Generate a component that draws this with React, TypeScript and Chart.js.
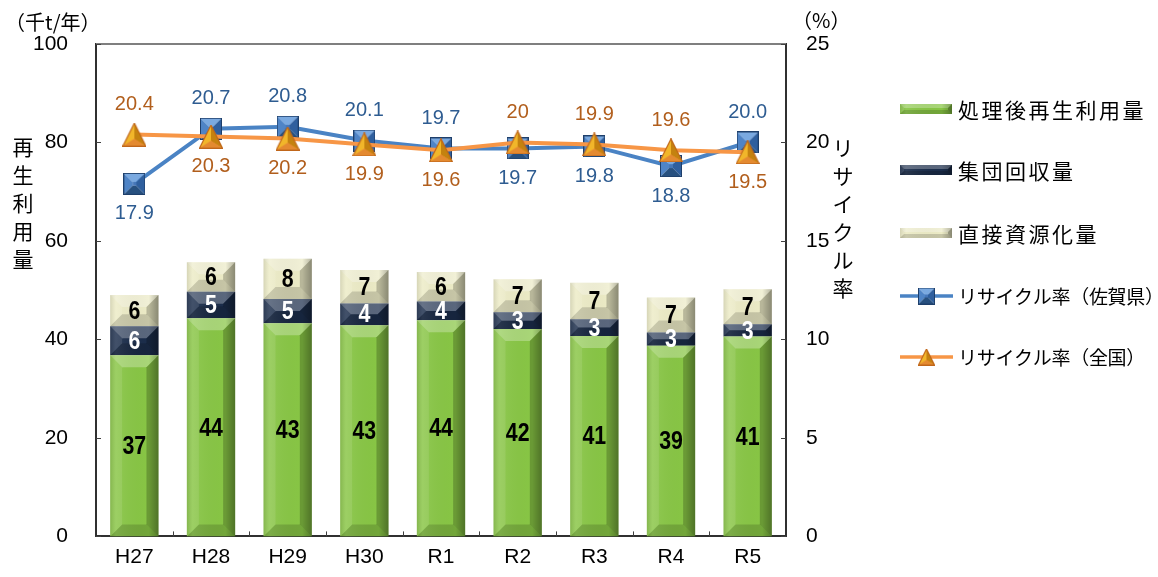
import React, { useEffect, useRef } from 'react';
import { Chart, registerables } from 'chart.js';

Chart.register(...registerables);

// ---- data ----
const categories = ['H27', 'H28', 'H29', 'H30', 'R1', 'R2', 'R3', 'R4', 'R5'];
const recycledAfterTreatment = [36.8, 44.3, 43.3, 42.9, 43.9, 42.1, 40.7, 38.7, 40.6];
const groupCollection = [5.9, 5.4, 4.9, 4.4, 3.8, 3.4, 3.4, 2.7, 2.5];
const directRecycling = [6.3, 6.0, 8.2, 6.8, 6.0, 6.7, 7.4, 7.1, 7.1];
const rateSaga = [17.9, 20.7, 20.8, 20.1, 19.7, 19.7, 19.8, 18.8, 20.0];
const rateNational = [20.4, 20.3, 20.2, 19.9, 19.6, 20, 19.9, 19.6, 19.5];
const rateSagaText = ['17.9', '20.7', '20.8', '20.1', '19.7', '19.7', '19.8', '18.8', '20.0'];
const rateNationalText = ['20.4', '20.3', '20.2', '19.9', '19.6', '20', '19.9', '19.6', '19.5'];
const sagaLabelSide = ['below', 'above', 'above', 'above', 'above', 'below', 'below', 'below', 'above'];
const nationalLabelSide = ['above', 'below', 'below', 'below', 'below', 'above', 'above', 'above', 'below'];
const leftTitle = '再生利用量';
const rightTitle = 'リサイクル率';
const leftUnit = '（千t/年）';
const rightUnit = '（%）';

const CJK = "'Noto Sans CJK JP', 'Noto Sans CJK SC', sans-serif";
const LATIN = "'Liberation Sans', Arial, sans-serif";

const GREEN = '#88c645';
const NAVY = '#1b2d4b';
const CREAM = '#ecebc6';
const BLUE_LINE = '#4a83c4';
const ORANGE_LINE = '#f79646';
const BLUE_TEXT = '#2e5c91';
const ORANGE_TEXT = '#b15e1c';

function poly(g: CanvasRenderingContext2D, pts: number[][], color: string) {
  g.beginPath();
  g.moveTo(pts[0][0], pts[0][1]);
  for (let k = 1; k < pts.length; k++) g.lineTo(pts[k][0], pts[k][1]);
  g.closePath();
  g.fillStyle = color;
  g.fill();
}

function makeSquare(s: number): HTMLCanvasElement {
  const c = document.createElement('canvas');
  c.width = s;
  c.height = s;
  const g = c.getContext('2d')!;
  const i = s * 0.42;
  poly(g, [[0, 0], [s, 0], [s - i, i], [i, i]], '#7aa9e0');
  poly(g, [[0, 0], [i, i], [i, s - i], [0, s]], '#4f84c6');
  poly(g, [[s, 0], [s, s], [s - i, s - i], [s - i, i]], '#2f5f9e');
  poly(g, [[0, s], [i, s - i], [s - i, s - i], [s, s]], '#27507f');
  g.fillStyle = '#4676b8';
  g.fillRect(i, i, s - 2 * i, s - 2 * i);
  g.strokeStyle = '#1e3f6b';
  g.lineWidth = 1;
  g.strokeRect(0.5, 0.5, s - 1, s - 1);
  return c;
}

function makeTriangle(s: number): HTMLCanvasElement {
  const c = document.createElement('canvas');
  c.width = s;
  c.height = s;
  const g = c.getContext('2d')!;
  const A = [s / 2, 0.5];
  const B = [0.5, s - 0.5];
  const C = [s - 0.5, s - 0.5];
  const G = [s / 2, s * 0.68];
  poly(g, [A, B, C], '#f39a40');
  poly(g, [A, B, G], '#f1b62a');
  poly(g, [A, C, G], '#c4820f');
  poly(g, [B, C, G], '#e48a30');
  g.beginPath();
  g.moveTo(A[0], A[1]);
  g.lineTo(B[0], B[1]);
  g.lineTo(C[0], C[1]);
  g.closePath();
  g.strokeStyle = '#c0661a';
  g.lineWidth = 1.2;
  g.stroke();
  return c;
}

function bevel(ctx: CanvasRenderingContext2D, x0: number, y0: number, x1: number, y1: number, maxB: number) {
  const w = x1 - x0;
  const h = y1 - y0;
  if (w <= 0 || h <= 0) return;
  const b = Math.min(maxB, w / 2, h / 2);
  poly(ctx, [[x0, y0], [x1, y0], [x1 - b, y0 + b], [x0 + b, y0 + b]], 'rgba(255,255,255,0.28)');
  poly(ctx, [[x0, y0], [x0 + b, y0 + b], [x0 + b, y1 - b], [x0, y1]], 'rgba(255,255,255,0.10)');
  poly(ctx, [[x1, y0], [x1, y1], [x1 - b, y1 - b], [x1 - b, y0 + b]], 'rgba(0,0,0,0.22)');
  poly(ctx, [[x0, y1], [x0 + b, y1 - b], [x1 - b, y1 - b], [x1, y1]], 'rgba(0,0,0,0.16)');
  const gr = ctx.createLinearGradient(x0, 0, x1, 0);
  gr.addColorStop(0, 'rgba(0,0,0,0.10)');
  gr.addColorStop(0.12, 'rgba(255,255,255,0.08)');
  gr.addColorStop(0.8, 'rgba(0,0,0,0)');
  gr.addColorStop(1, 'rgba(0,0,0,0.25)');
  ctx.fillStyle = gr;
  ctx.fillRect(x0, y0, w, h);
}

const bevelPlugin = {
  id: 'bevelPlugin',
  afterDatasetDraw(chart: any, args: any) {
    const meta = args.meta;
    if (meta.type !== 'bar') return;
    const ctx = chart.ctx;
    ctx.save();
    meta.data.forEach((el: any) => {
      const p = el.getProps(['x', 'y', 'base', 'width'], true);
      const x0 = p.x - p.width / 2;
      const x1 = p.x + p.width / 2;
      const t = Math.min(p.y, p.base);
      const b = Math.max(p.y, p.base);
      bevel(ctx, x0, t, x1, b, 12);
    });
    ctx.restore();
  },
};

const labelPlugin = {
  id: 'labelPlugin',
  afterDatasetsDraw(chart: any) {
    const ctx = chart.ctx;
    ctx.save();
    ctx.textAlign = 'center';
    ctx.textBaseline = 'middle';
    chart.data.datasets.forEach((ds: any, di: number) => {
      const meta = chart.getDatasetMeta(di);
      if (ds.type === 'bar') {
        ctx.font = `bold 26px ${LATIN}`;
        ctx.fillStyle = ds.labelColor;
        meta.data.forEach((el: any, i: number) => {
          const p = el.getProps(['x', 'y', 'base'], true);
          const cy = (p.y + p.base) / 2;
          ctx.save();
          ctx.translate(p.x, cy + 1);
          ctx.scale(0.82, 1);
          ctx.fillText(String(Math.round(ds.data[i])), 0, 0);
          ctx.restore();
        });
      } else {
        ctx.font = `20px ${LATIN}`;
        ctx.fillStyle = ds.labelColor;
        meta.data.forEach((el: any, i: number) => {
          const p = el.getProps(['x', 'y'], true);
          const off = ds.labelSide[i] === 'above' ? -30 : 30;
          ctx.fillText(ds.labelText[i], p.x, p.y + off);
        });
      }
    });
    ctx.restore();
  },
};

const decorPlugin = {
  id: 'decorPlugin',
  afterDraw(chart: any) {
    const ctx = chart.ctx;
    const { left, right, top, bottom } = chart.chartArea;
    ctx.save();
    ctx.strokeStyle = '#7f7f7f';
    ctx.lineWidth = 2;
    ctx.beginPath();
    ctx.moveTo(left, top);
    ctx.lineTo(right, top);
    ctx.stroke();
    ctx.strokeStyle = '#404040';
    ctx.lineWidth = 1;
    const y = chart.scales.y;
    const y1 = chart.scales.y1;
    y.ticks.forEach((t: any) => {
      const py = Math.round(y.getPixelForValue(t.value)) + 0.5;
      ctx.beginPath();
      ctx.moveTo(left, py);
      ctx.lineTo(left + 5, py);
      ctx.stroke();
    });
    y1.ticks.forEach((t: any) => {
      const py = Math.round(y1.getPixelForValue(t.value)) + 0.5;
      ctx.beginPath();
      ctx.moveTo(right - 5, py);
      ctx.lineTo(right, py);
      ctx.stroke();
    });
    const n = categories.length;
    const cw = (right - left) / n;
    for (let i = 1; i < n; i++) {
      const px = Math.round(left + i * cw) + 0.5;
      ctx.beginPath();
      ctx.moveTo(px, bottom);
      ctx.lineTo(px, bottom - 5);
      ctx.stroke();
    }
    ctx.fillStyle = '#000';
    ctx.textBaseline = 'middle';
    ctx.textAlign = 'left';
    ctx.font = `20px ${CJK}`;
    ctx.fillText(leftUnit, 5, 22);
    ctx.fillText(rightUnit, 792, 20);
    ctx.textAlign = 'center';
    ctx.font = `21px ${CJK}`;
    Array.from(leftTitle).forEach((ch, i) => ctx.fillText(ch, 23, 147 + i * 28));
    Array.from(rightTitle).forEach((ch, i) => ctx.fillText(ch, 843, 148 + i * 28));
    const items = [
      { kind: 'bar', color: GREEN, text: '処理後再生利用量' },
      { kind: 'bar', color: NAVY, text: '集団回収量' },
      { kind: 'bar', color: CREAM, text: '直接資源化量' },
      { kind: 'line', color: BLUE_LINE, marker: 'sq', text: 'リサイクル率（佐賀県）' },
      { kind: 'line', color: ORANGE_LINE, marker: 'tri', text: 'リサイクル率（全国）' },
    ];
    const sq = makeSquare(17);
    const tri = makeTriangle(17);
    const ys = [109, 170, 233, 296, 357];
    items.forEach((it: any, i) => {
      const cy = ys[i];
      if (it.kind === 'bar') {
        ctx.fillStyle = it.color;
        ctx.fillRect(900, cy - 5, 52, 10);
        bevel(ctx, 900, cy - 5, 952, cy + 5, 4);
        ctx.font = `21px ${CJK}`;
        (ctx as any).letterSpacing = '2.5px';
      } else {
        ctx.strokeStyle = it.color;
        ctx.lineWidth = 3.5;
        ctx.beginPath();
        ctx.moveTo(900, cy);
        ctx.lineTo(953, cy);
        ctx.stroke();
        const m = it.marker === 'sq' ? sq : tri;
        ctx.drawImage(m, 926.5 - m.width / 2, cy - m.height / 2);
        ctx.font = `19px ${CJK}`;
        (ctx as any).letterSpacing = '-0.3px';
      }
      ctx.fillStyle = '#000';
      ctx.textAlign = 'left';
      ctx.fillText(it.text, 958, cy + 1);
      (ctx as any).letterSpacing = '0px';
    });
    ctx.restore();
  },
};

export default function App() {
  const ref = useRef<HTMLCanvasElement | null>(null);
  useEffect(() => {
    if (!ref.current) return;
    const sqMarker = makeSquare(22);
    const triMarker = makeTriangle(24);
    const barCommon = { yAxisID: 'y', order: 2, categoryPercentage: 1, barPercentage: 0.63 };
    const chart = new Chart(ref.current, {
      type: 'bar',
      data: {
        labels: categories,
        datasets: [
          {
            type: 'line',
            label: 'リサイクル率（全国）',
            data: rateNational,
            yAxisID: 'y1',
            order: 0,
            borderColor: ORANGE_LINE,
            borderWidth: 4,
            pointStyle: triMarker as any,
            pointRadius: 12,
            tension: 0,
            labelColor: ORANGE_TEXT,
            labelText: rateNationalText,
            labelSide: nationalLabelSide,
          } as any,
          {
            type: 'line',
            label: 'リサイクル率（佐賀県）',
            data: rateSaga,
            yAxisID: 'y1',
            order: 1,
            borderColor: BLUE_LINE,
            borderWidth: 4,
            pointStyle: sqMarker as any,
            pointRadius: 11,
            tension: 0,
            labelColor: BLUE_TEXT,
            labelText: rateSagaText,
            labelSide: sagaLabelSide,
          } as any,
          { type: 'bar', label: '処理後再生利用量', data: recycledAfterTreatment, backgroundColor: GREEN, labelColor: '#000', ...barCommon } as any,
          { type: 'bar', label: '集団回収量', data: groupCollection, backgroundColor: NAVY, labelColor: '#fff', ...barCommon } as any,
          { type: 'bar', label: '直接資源化量', data: directRecycling, backgroundColor: CREAM, labelColor: '#000', ...barCommon } as any,
        ],
      },
      options: {
        responsive: false,
        animation: false,
        events: [],
        layout: { padding: { top: 44, left: 0, right: 0, bottom: 0 } },
        plugins: { legend: { display: false }, tooltip: { enabled: false }, title: { display: false } },
        scales: {
          x: {
            stacked: true,
            grid: { display: false, drawTicks: false },
            border: { display: true, color: '#303030', width: 2 },
            ticks: { font: { family: LATIN, size: 21 }, color: '#000', padding: 8 },
            afterFit: (s: any) => { s.height = 39; },
          },
          y: {
            stacked: true,
            position: 'left',
            min: 0,
            max: 100,
            grid: { display: false, drawTicks: false },
            border: { display: true, color: '#303030', width: 2 },
            ticks: { stepSize: 20, font: { family: LATIN, size: 21 }, color: '#000', padding: 28 },
            afterFit: (s: any) => { s.width = 96; },
          },
          y1: {
            stacked: false,
            position: 'right',
            min: 0,
            max: 25,
            grid: { display: false, drawTicks: false },
            border: { display: true, color: '#303030', width: 2 },
            ticks: { stepSize: 5, font: { family: LATIN, size: 21 }, color: '#000', padding: 20 },
            afterFit: (s: any) => { s.width = 372; },
          },
        },
      } as any,
      plugins: [bevelPlugin, labelPlugin, decorPlugin],
    });
    return () => chart.destroy();
  }, []);
  return (
    <div style={{ position: 'fixed', left: 0, top: 0, width: 1158, height: 577, background: '#fff' }}>
      <canvas ref={ref} width={1158} height={577} style={{ display: 'block' }} />
    </div>
  );
}
